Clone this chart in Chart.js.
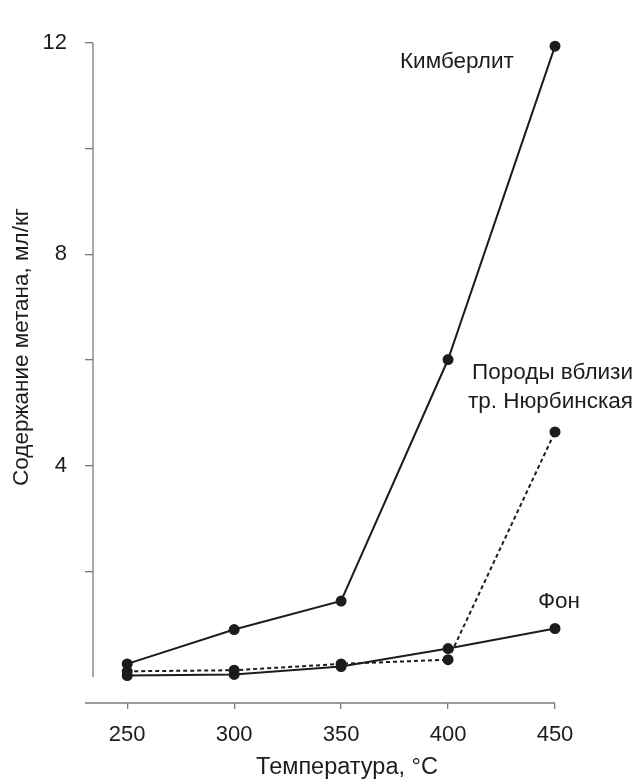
<!DOCTYPE html>
<html><head><meta charset="utf-8">
<script src="https://cdn.jsdelivr.net/npm/chart.js@4/dist/chart.umd.min.js"></script>
<style>html,body{margin:0;padding:0;background:#fff}#wrap{width:636px;height:782px;position:relative}</style>
</head><body><div id="wrap"><canvas id="c" width="636" height="782"></canvas></div>
<script>
const temperatures = [250, 300, 350, 400, 450];
const kimberlite = [0.25, 0.90, 1.44, 6.01, 11.94];
const nyurbaRocks = [0.11, 0.13, 0.25, 0.33, 4.64];
const background = [0.03, 0.05, 0.20, 0.54, 0.92];
const yTickValues = [2, 4, 6, 8, 10, 12];
const yTickLabels = [4, 8, 12];
const seriesNames = ['Кимберлит', 'Породы вблизи тр. Нюрбинская', 'Фон'];
const xTitle = 'Температура, °C';
const yTitle = 'Содержание метана, мл/кг';

const FONT = '"Liberation Sans", Arial, Helvetica, sans-serif';
const INK = '#1c1c1c';
const AXIS = '#7a7a7a';

function pts(vals) { return temperatures.map((t, i) => ({x: t, y: vals[i]})); }

const lineStyle = {
  borderColor: INK, backgroundColor: INK, pointBackgroundColor: INK, pointBorderColor: INK,
  borderWidth: 2, pointRadius: 4.5, pointHoverRadius: 4.5, tension: 0, fill: false, clip: false
};

const decor = {
  id: 'decor',
  afterDraw(chart) {
    const {ctx, chartArea, scales: {x, y}} = chart;
    ctx.save();
    ctx.strokeStyle = AXIS; ctx.lineWidth = 1.3;
    ctx.beginPath();
    ctx.moveTo(chartArea.left, y.getPixelForValue(0));
    ctx.lineTo(chartArea.left, y.getPixelForValue(12));
    ctx.stroke();
    ctx.beginPath();
    ctx.moveTo(chartArea.left - 8, chartArea.bottom);
    ctx.lineTo(chartArea.right, chartArea.bottom);
    ctx.stroke();
    ctx.fillStyle = INK;
    ctx.textAlign = 'center'; ctx.textBaseline = 'middle';
    ctx.font = '23.5px ' + FONT;
    ctx.fillText(xTitle, 347, 768);
    ctx.font = '22.5px ' + FONT;
    ctx.save();
    ctx.translate(22, 347); ctx.rotate(-Math.PI / 2);
    ctx.fillText(yTitle, 0, 0);
    ctx.restore();
    ctx.textAlign = 'left';
    ctx.fillText(seriesNames[0], 400, 62);
    ctx.textAlign = 'right';
    ctx.fillText('Породы вблизи', 633, 373);
    ctx.fillText('тр. Нюрбинская', 633, 402);
    ctx.textAlign = 'left';
    ctx.fillText(seriesNames[2], 538, 602);
    ctx.restore();
  }
};

new Chart(document.getElementById('c'), {
  type: 'line',
  data: {
    datasets: [
      Object.assign({label: seriesNames[0], data: pts(kimberlite)}, lineStyle),
      Object.assign({label: seriesNames[1], data: pts(nyurbaRocks), borderDash: [4, 3]}, lineStyle),
      Object.assign({label: seriesNames[2], data: pts(background)}, lineStyle)
    ]
  },
  options: {
    responsive: false, animation: false,
    layout: {padding: {left: 0, right: 81, top: 43, bottom: 0}},
    plugins: {legend: {display: false}, tooltip: {enabled: false}},
    scales: {
      x: {
        type: 'linear', min: 234, max: 450,
        afterBuildTicks: s => { s.ticks = temperatures.map(v => ({value: v})); },
        afterFit: s => { s.height = 79; },
        border: {display: false},
        grid: {drawOnChartArea: false, drawTicks: true, tickLength: 6, color: AXIS, lineWidth: 1.3},
        ticks: {color: INK, font: {family: FONT, size: 22}, padding: 13, maxRotation: 0, autoSkip: false}
      },
      y: {
        type: 'linear', min: -0.49, max: 12,
        afterBuildTicks: s => { s.ticks = yTickValues.map(v => ({value: v})); },
        afterFit: s => { s.width = 93; },
        border: {display: false},
        grid: {drawOnChartArea: false, drawTicks: true, tickLength: 8, color: AXIS, lineWidth: 1.3},
        ticks: {color: INK, font: {family: FONT, size: 22}, padding: 18, autoSkip: false,
          callback: v => yTickLabels.includes(v) ? String(v) : ''}
      }
    }
  },
  plugins: [decor]
});
</script></body></html>
